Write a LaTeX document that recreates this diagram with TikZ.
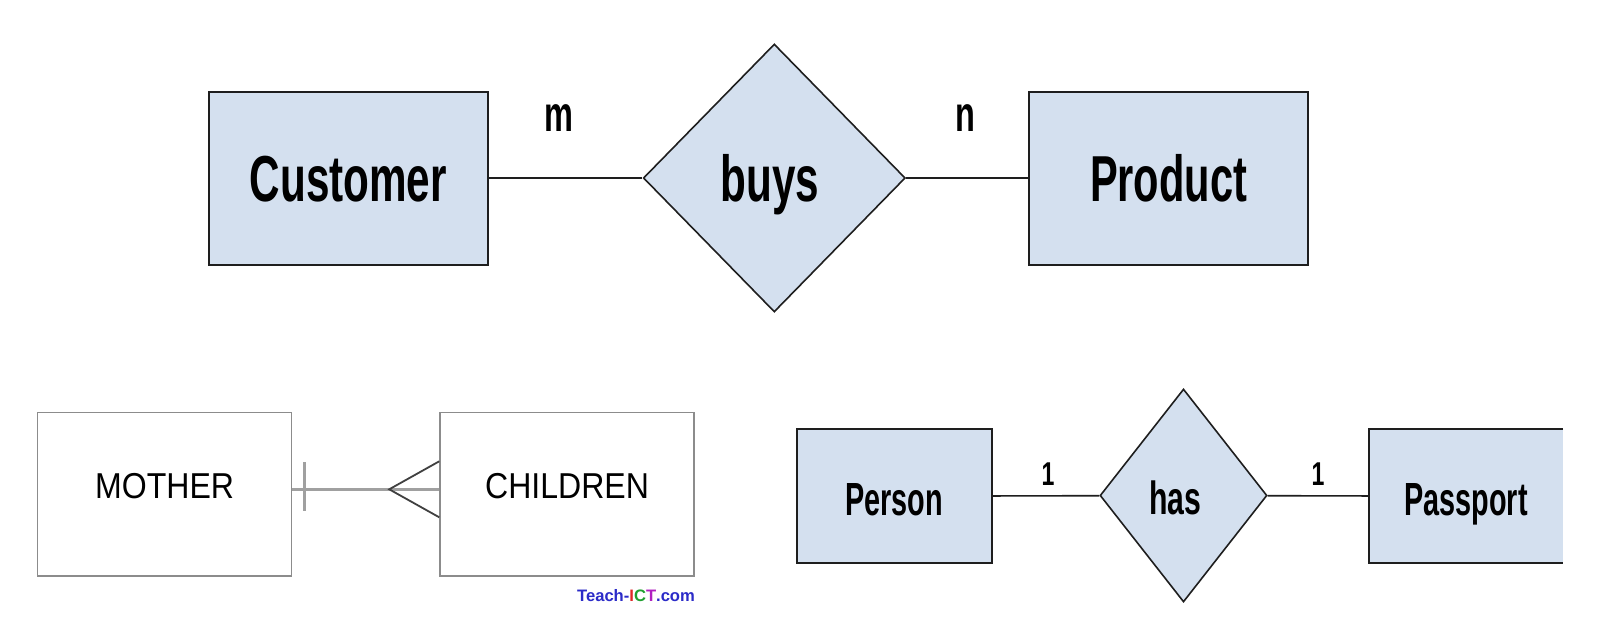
\documentclass[tikz,border=0pt]{standalone}
\usepackage{fontspec}
\setmainfont{Liberation Sans}
\usepackage{graphicx}
\usetikzlibrary{shapes.geometric,calc}
\definecolor{erfill}{HTML}{D4E0EF}
\definecolor{erline}{HTML}{1E1E1E}
\definecolor{grayline}{HTML}{8C8C8C}
\definecolor{grayconnc}{HTML}{A0A0A0}
\definecolor{tblue}{HTML}{2B2BC8}
\definecolor{tred}{HTML}{E02828}
\definecolor{tgreen}{HTML}{20A030}
\definecolor{tmag}{HTML}{B020C0}
\newcommand{\condtxt}[2]{\scalebox{#1}[1]{#2}}
\begin{document}
\begin{tikzpicture}[x=1pt,y=-1pt,
  entity/.style={draw=erline, line width=2pt, fill=erfill, rectangle, inner sep=0pt, text depth=0pt},
  relship/.style={draw=erline, line width=1.6pt, fill=erfill, diamond, inner sep=0pt, text depth=0pt},
  bigtxt/.style={font=\fontsize{65}{65}\selectfont\bfseries, text height=47.4pt},
  midtxt/.style={font=\fontsize{46.5}{46.5}\selectfont\bfseries, text height=37.6pt},
  cardbig/.style={font=\fontsize{50}{50}\selectfont\bfseries, inner sep=0pt, anchor=base},
  cardmid/.style={font=\fontsize{33}{33}\selectfont\bfseries, inner sep=0pt, anchor=base},
  link/.style={draw=erline, line width=1.6pt},
  plainbox/.style={draw=grayline, line width=1.5pt, rectangle, inner sep=0pt, text depth=0pt, text height=8pt, font=\fontsize{36}{36}\selectfont},
  grayconn/.style={draw=grayconnc, line width=2.6pt},
  crow/.style={draw=erline!85, line width=1.8pt, line join=miter}
]
\useasboundingbox[fill=white] (0,0) rectangle (1603,629);

% top diagram
\node[entity, bigtxt, minimum width=279pt, minimum height=173pt] (cust) at (348.3,178) {\condtxt{0.65}{Customer}};
\node[relship, bigtxt, minimum width=262pt, minimum height=268pt] (buys) at (774.3,178) {\condtxt{0.65}{buys}\kern9pt};
\node[entity, bigtxt, minimum width=279pt, minimum height=173pt] (prod) at (1168.6,178) {\condtxt{0.64}{Product}};
\draw[link] (cust) -- (buys);
\draw[link] (buys) -- (prod);
\node[cardbig] (mlab) at (559.4,131.7) {\condtxt{0.65}{m}};
\node[cardbig] (nlab) at (965.7,131.7) {\condtxt{0.65}{n}};

% bottom left diagram
\node[plainbox, minimum width=254pt, minimum height=163.7pt] (mother) at (164.6,494.2) {\condtxt{0.89}{MOTHER}};
\node[plainbox, minimum width=254.2pt, minimum height=163.7pt] (children) at (567.1,494.2) {\condtxt{0.89}{CHILDREN}};
\coordinate (mo) at ([yshift=4.9pt]mother.east);
\coordinate (ch) at ([yshift=4.9pt]children.west);
\draw[grayconn] (mo) -- (ch);
\draw[grayconn] ($(mo)+(12.4,-27.3)$) -- ($(mo)+(12.4,21.2)$);
\draw[crow] ($(ch)+(0,-28)$) -- ($(ch)+(-50,0)$) -- ($(ch)+(0,28)$);
\node[font=\fontsize{16.6}{16.6}\selectfont\bfseries, anchor=base, text=tblue, inner sep=0pt] (credit) at (636,601.7)
  {Teach-\textcolor{tred}{I}\textcolor{tgreen}{C}\textcolor{tmag}{T}.com};

% bottom right diagram
\node[entity, midtxt, minimum width=194.5pt, minimum height=134pt] (person) at (894.3,496.2) {\condtxt{0.62}{Person}};
\node[relship, midtxt, minimum width=167pt, minimum height=213pt] (has) at (1183.5,495.5) {\condtxt{0.65}{has}\kern16pt};
\node[fill=erfill, midtxt, rectangle, inner sep=0pt, text depth=0pt, minimum width=194pt, minimum height=134pt] (pass) at (1466,496.2) {\condtxt{0.62}{Passport}};
\draw[draw=erline, line width=2pt] (pass.north east) -- (pass.north west) -- (pass.south west) -- (pass.south east);
\draw[link] (person) -- (has);
\draw[link] (has) -- (pass);
\node[cardmid] (one1) at (1048,485) {\condtxt{0.7}{1}};
\node[cardmid] (one2) at (1318,485) {\condtxt{0.7}{1}};
\end{tikzpicture}
\end{document}
